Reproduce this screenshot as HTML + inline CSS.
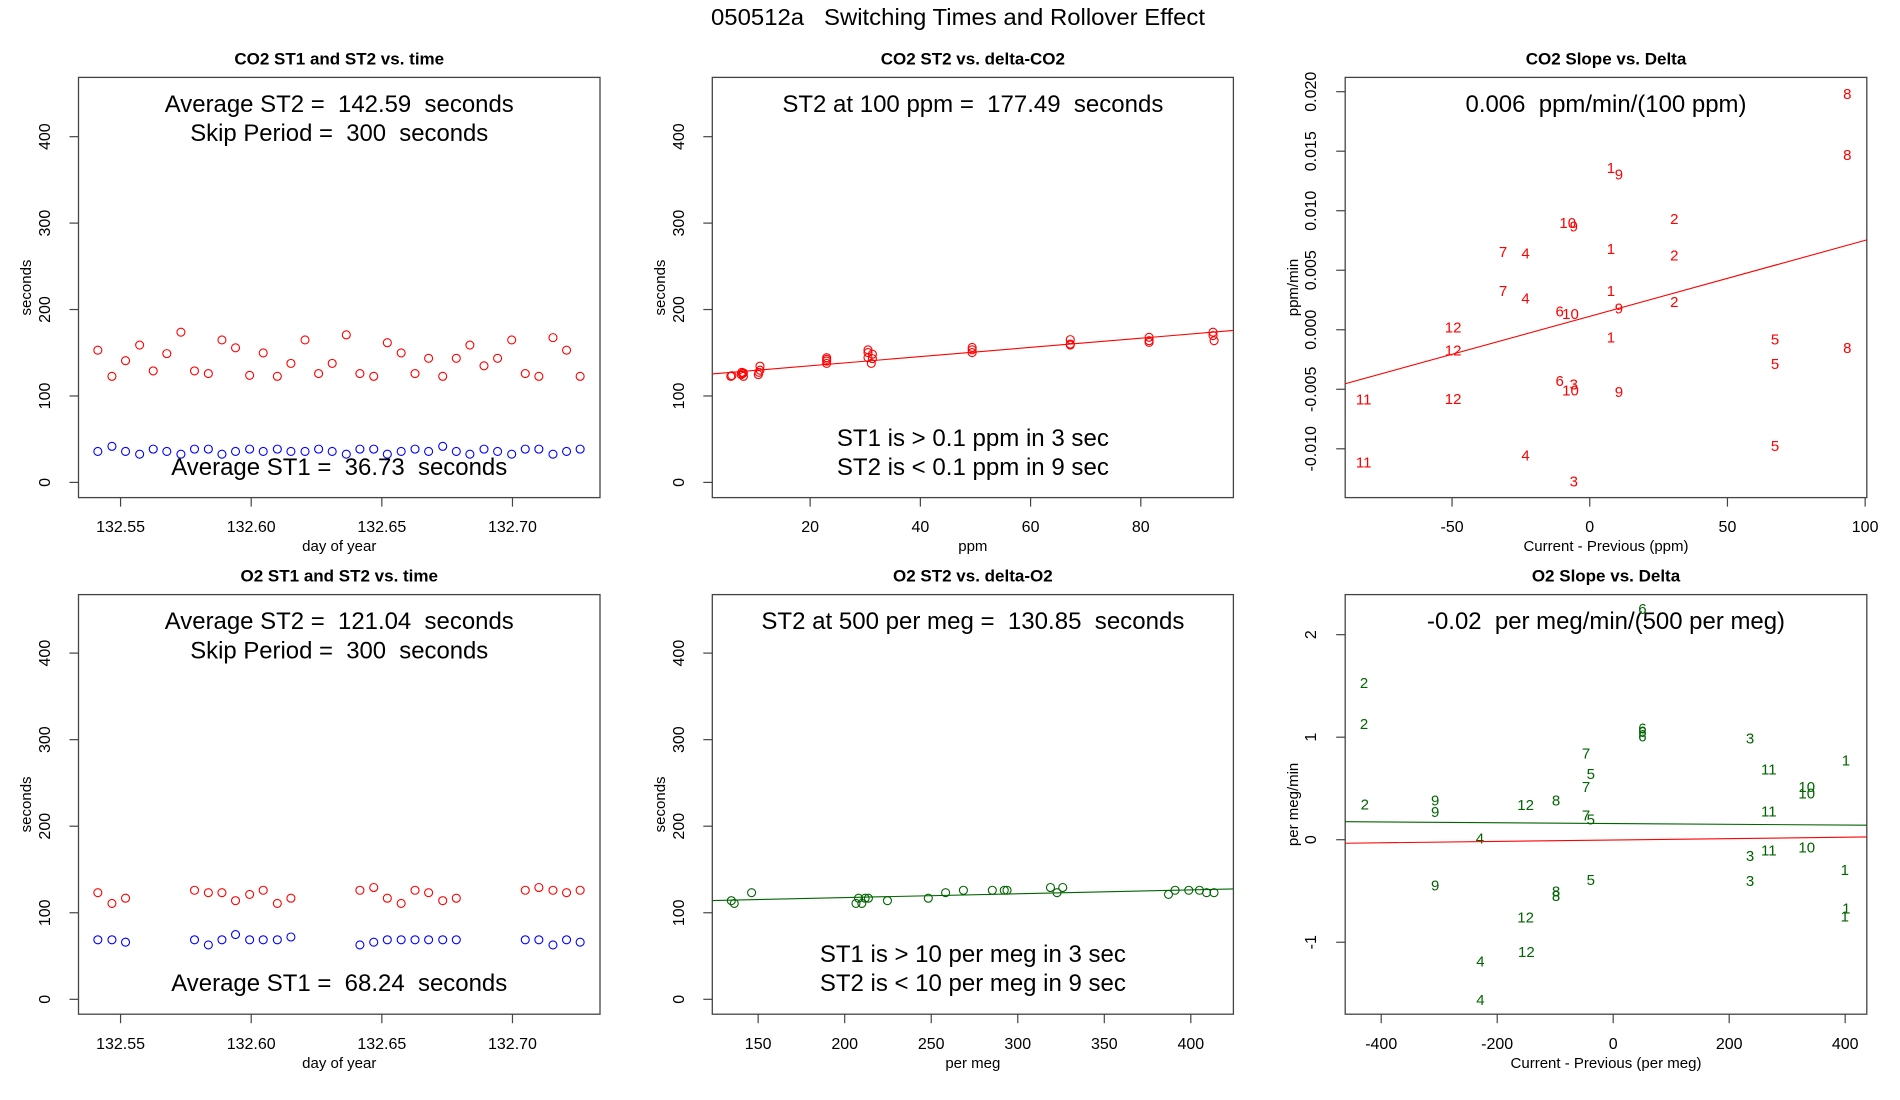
<!DOCTYPE html>
<html><head><meta charset="utf-8"><style>
html,body{margin:0;padding:0;background:#fff;}
svg{display:block;font-family:"Liberation Sans",Arial,sans-serif;}
svg text{white-space:pre;}
</style></head><body>
<svg id="chart" width="1900" height="1100" viewBox="0 0 1900 1100" xmlns="http://www.w3.org/2000/svg">
<rect x="0" y="0" width="1900" height="1100" fill="#fff"/>
<text x="958" y="25" text-anchor="middle" font-size="23" textLength="494" lengthAdjust="spacingAndGlyphs">050512a   Switching Times and Rollover Effect</text>
</svg>
<script>
// ---------- data ----------
const co2Time = [132.5413,132.5467,132.5519,132.5573,132.5625,132.5677,132.5731,132.5783,132.5836,132.5888,132.5940,132.5994,132.6046,132.6100,132.6152,132.6206,132.6258,132.6310,132.6364,132.6416,132.6469,132.6521,132.6574,132.6627,132.6679,132.6733,132.6785,132.6837,132.6891,132.6943,132.6997,132.7049,132.7101,132.7155,132.7207,132.7259];
const co2ST2 = [153,122.7,140.8,158.9,129,149,173.8,129,125.9,164.8,155.7,123.9,149.8,122.7,137.7,164.8,125.9,137.7,170.7,125.9,122.7,161.6,149.8,125.9,143.6,122.7,143.6,158.9,134.9,143.6,164.8,125.9,122.7,167.5,153,122.7];
const co2ST1 = [35.8,41.7,35.8,32.6,38.5,35.8,32.6,38.5,38.5,32.6,35.8,38.5,35.8,38.5,35.8,35.8,38.5,35.8,32.6,38.5,38.5,32.6,35.8,38.5,35.8,41.7,35.8,32.6,38.5,35.8,32.6,38.5,38.5,32.6,35.8,38.5];

const o2Time = [132.5413,132.5467,132.5519,132.5783,132.5836,132.5888,132.5940,132.5994,132.6046,132.6100,132.6152,132.6416,132.6469,132.6521,132.6574,132.6627,132.6679,132.6733,132.6785,132.7049,132.7101,132.7155,132.7207,132.7259];
const o2ST2 = [123.2,110.8,116.8,126,123.2,123.2,114,121.2,126,110.8,116.8,126,129.2,116.8,110.8,126,123.2,114,116.8,126,129.2,126,123.2,126];
const o2ST1 = [68.8,68.8,66,68.8,62.8,68.8,74.8,68.8,68.8,68.8,72,62.8,66,68.8,68.8,68.8,68.8,68.8,68.8,68.8,68.8,62.8,68.8,66];

const co2Delta = [5.6,5.8,7.5,7.7,7.9,7.6,7.9,10.6,10.7,10.9,10.9,23.0,23.0,23.0,23.0,30.5,30.5,30.5,31.1,31.3,31.3,49.4,49.4,49.4,67.2,67.2,67.2,81.5,81.5,81.5,93.1,93.1,93.3];
const co2DeltaST2 = [122.7,123.5,124.7,125.9,122.7,127.4,126.6,124.7,127.4,129.8,134.5,144.3,140.4,137.7,142.4,153.4,150.2,144.3,137.7,148.3,143.2,156.1,153.4,150.2,165.2,160.1,158.9,167.9,164,162,173.8,169.9,164];
const co2Fit = [124.27, 0.5322]; // intercept, slope

const o2Delta = [134.5,136.2,146.2,206.5,208,209.9,211.8,213.7,224.7,248.3,258.3,268.6,285.3,292.2,293.8,318.9,322.7,326,387.1,390.9,398.8,405,409.1,413.4];
const o2DeltaST2 = [114,110.8,123.2,110.8,116.8,110.8,116.8,116.8,114,116.8,123.2,126,126,126,126,129.2,123.2,129.2,121.2,126,126,126,123.2,123.2];
const o2Fit = [108.6, 0.0445];

const co2SlopeLabels = ["8","8","8","1","9","10","9","2","7","4","1","2","7","4","1","9","2","6","10","12","1","5","12","5","6","3","10","9","11","12","5","4","11","3"];
const co2SlopeX = [93.5,93.5,93.5,7.7,10.6,-8,-5.8,30.7,-31.5,-23.3,7.7,30.7,-31.5,-23.3,7.7,10.6,30.7,-10.9,-7,-49.6,7.7,67.3,-49.6,67.3,-10.9,-5.8,-7,10.6,-82.1,-49.6,67.3,-23.3,-82.1,-5.8];
const co2SlopeY = [0.01977,0.01464,-0.00157,0.01355,0.01298,0.00893,0.00865,0.00927,0.0065,0.00636,0.00673,0.00619,0.00322,0.0026,0.00322,0.00174,0.00231,0.00151,0.00128,0.00014,-0.00071,-0.00088,-0.0018,-0.00291,-0.00434,-0.00462,-0.00514,-0.00528,-0.00591,-0.00585,-0.00979,-0.01061,-0.01121,-0.01281];
const co2SlopeFit = [0.00113, 0.0000638];

const o2SlopeLabels = ["6","2","2","6","6","6","3","1","7","5","11","7","10","10","8","9","9","12","2","11","7","5","4","10","11","3","1","5","3","9","8","8","1","1","12","4","12","4"];
const o2SlopeX = [50.3,-429.7,-429.7,50.3,50.3,50.3,235.9,401.4,-46.9,-38.6,268.3,-46.9,333.8,333.8,-98.6,-306.9,-306.9,-151,-428.3,268.3,-46.9,-38.6,-229.7,333.8,268.3,235.9,399.3,-38.6,235.9,-306.9,-98.6,-98.6,402,399.3,-151,-229,-149.7,-229];
const o2SlopeY = [2.247,1.525,1.125,1.078,1.044,1.003,0.983,0.766,0.834,0.637,0.678,0.508,0.508,0.447,0.376,0.376,0.264,0.332,0.339,0.271,0.231,0.19,0.007,-0.081,-0.108,-0.163,-0.302,-0.4,-0.407,-0.451,-0.508,-0.556,-0.678,-0.753,-0.763,-1.193,-1.098,-1.566];
const o2SlopeFit = [0.158, -0.000038];
const o2RefFit = [-0.003, 0.000068];

const secTicks = [0,100,200,300,400];
const timeTicks = [132.55,132.60,132.65,132.70];
const timeTickLabels = ["132.55","132.60","132.65","132.70"];
const ppmTicks = [20,40,60,80];
const permegTicks = [150,200,250,300,350,400];
const co2SlopeYTicks = [-0.010,-0.005,0.000,0.005,0.010,0.015,0.020];
const co2SlopeYLabels = ["-0.010","-0.005","0.000","0.005","0.010","0.015","0.020"];
const co2SlopeXTicks = [-50,0,50,100];
const o2SlopeYTicks = [-1,0,1,2];
const o2SlopeXTicks = [-400,-200,0,200,400];

// ---------- drawing ----------
const NS = "http://www.w3.org/2000/svg";
const svg = document.getElementById('chart');
function mk(tag, attrs, parent, txt){
  const e = document.createElementNS(NS, tag);
  for (const k in attrs) e.setAttribute(k, attrs[k]);
  if (txt !== undefined) e.textContent = txt;
  (parent || svg).appendChild(e);
  return e;
}
const RED = "#ff0000", BLUE = "#0000ff", GREEN = "#006400";
const TOP = {y0: 77.4, y1: 497.6, title: 64.5, tickLab: 532, xlab: 551};
const BOT = {y0: 594.6, y1: 1014.2, title: 581.5, tickLab: 1049, xlab: 1068};
const COLS = [{x0:78.5,x1:600,ylab:31,ytl:50},{x0:712.3,x1:1233.4,ylab:665,ytl:684},{x0:1345.2,x1:1866.8,ylab:1298,ytl:1316}];

function panel(name, col, row, xd, yd, title, xlab, ylab, xt, xtl, yt, ytl){
  const g = mk('g', {});
  
  
  const sx = v => col.x0 + (v - xd[0]) / (xd[1] - xd[0]) * (col.x1 - col.x0);
  const sy = v => row.y1 - (v - yd[0]) / (yd[1] - yd[0]) * (row.y1 - row.y0);
  const cx = (col.x0 + col.x1) / 2;
  const t = mk('text', {x: cx, y: row.title, 'text-anchor':'middle', 'font-size':17, 'font-weight':'bold'}, g, title);
  
  
  const box = mk('rect', {x: col.x0, y: row.y0, width: col.x1-col.x0, height: row.y1-row.y0, fill:'none', stroke:'#444', 'stroke-width':1.3}, g);
  
  
  xt.forEach((v,i) => {
    const x = sx(v);
    mk('line', {x1:x, x2:x, y1:row.y1, y2:row.y1+9, stroke:'#444', 'stroke-width':1.2}, g);
    const l = mk('text', {x:x, y:row.tickLab, 'text-anchor':'middle', 'font-size':16}, g, xtl[i]);
    
    
  });
  yt.forEach((v,i) => {
    const y = sy(v);
    mk('line', {x1:col.x0-9, x2:col.x0, y1:y, y2:y, stroke:'#444', 'stroke-width':1.2}, g);
    const l = mk('text', {x:col.ytl, y:y, 'text-anchor':'middle', 'font-size':16, transform:`rotate(-90 ${col.ytl} ${y})`}, g, ytl[i]);
    
    
  });
  const xl = mk('text', {x:cx, y:row.xlab, 'text-anchor':'middle', 'font-size':15}, g, xlab);
  
  
  const ym = (row.y0 + row.y1) / 2;
  const yl = mk('text', {x:col.ylab, y:ym, 'text-anchor':'middle', 'font-size':15, transform:`rotate(-90 ${col.ylab} ${ym})`}, g, ylab);
  
  
  return {g, sx, sy, cx};
}
function note(p, txt, y, w){
  const t = mk('text', {x:p.cx, y:y, 'text-anchor':'middle', 'font-size':24, textLength:w, lengthAdjust:'spacingAndGlyphs'}, p.g, txt);
  
  
}
function pts(p, xs, ys, color, nm){
  xs.forEach((v,i) => {
    const c = mk('circle', {cx:p.sx(v), cy:p.sy(ys[i]), r:4, fill:'none', stroke:color, 'stroke-width':1.1}, p.g);
    
    
  });
}
function fitLine(p, xd, fit, color, nm){
  const l = mk('line', {x1:p.sx(xd[0]), y1:p.sy(fit[0]+fit[1]*xd[0]), x2:p.sx(xd[1]), y2:p.sy(fit[0]+fit[1]*xd[1]), stroke:color, 'stroke-width':1.1}, p.g);
  
  
}
function labels(p, xs, ys, lbs, color){
  xs.forEach((v,i) => {
    const t = mk('text', {x:p.sx(v), y:p.sy(ys[i]), 'text-anchor':'middle', 'dominant-baseline':'central', 'font-size':15, fill:color}, p.g, lbs[i]);
    
    
  });
}
const secLab = secTicks.map(String);
const secY = [-17.6, 468.6];
const timeX = [132.5339, 132.7335];

// Panel 1
let p = panel('co2-time-panel', COLS[0], TOP, timeX, secY, 'CO2 ST1 and ST2 vs. time', 'day of year', 'seconds', timeTicks, timeTickLabels, secTicks, secLab);
note(p, 'Average ST2 =  142.59  seconds', 112, 349);
note(p, 'Skip Period =  300  seconds', 141, 298);
pts(p, co2Time, co2ST2, RED, 'co2-st2-point');
pts(p, co2Time, co2ST1, BLUE, 'co2-st1-point');
note(p, 'Average ST1 =  36.73  seconds', 475, 336);

// Panel 2
const p2x = [2.25, 96.8];
p = panel('co2-delta-panel', COLS[1], TOP, p2x, secY, 'CO2 ST2 vs. delta-CO2', 'ppm', 'seconds', ppmTicks, ppmTicks.map(String), secTicks, secLab);
note(p, 'ST2 at 100 ppm =  177.49  seconds', 112, 381);
pts(p, co2Delta, co2DeltaST2, RED, 'co2-delta-point');
fitLine(p, p2x, co2Fit, RED, 'co2-fit-line');
note(p, 'ST1 is > 0.1 ppm in 3 sec', 446, 272);
note(p, 'ST2 is < 0.1 ppm in 9 sec', 475, 272);

// Panel 3
const p3x = [-88.8, 100.6];
p = panel('co2-slope-panel', COLS[2], TOP, p3x, [-0.0141, 0.0212], 'CO2 Slope vs. Delta', 'Current - Previous (ppm)', 'ppm/min', co2SlopeXTicks, co2SlopeXTicks.map(String), co2SlopeYTicks, co2SlopeYLabels);
note(p, '0.006  ppm/min/(100 ppm)', 112, 281);
labels(p, co2SlopeX, co2SlopeY, co2SlopeLabels, RED);
fitLine(p, p3x, co2SlopeFit, RED, 'co2-slope-fit-line');

// Panel 4
p = panel('o2-time-panel', COLS[0], BOT, timeX, [-17.2, 467.6], 'O2 ST1 and ST2 vs. time', 'day of year', 'seconds', timeTicks, timeTickLabels, secTicks, secLab);
note(p, 'Average ST2 =  121.04  seconds', 629, 349);
note(p, 'Skip Period =  300  seconds', 658.5, 298);
pts(p, o2Time, o2ST2, RED, 'o2-st2-point');
pts(p, o2Time, o2ST1, BLUE, 'o2-st1-point');
note(p, 'Average ST1 =  68.24  seconds', 991, 336);

// Panel 5
const p5x = [123.5, 424.6];
p = panel('o2-delta-panel', COLS[1], BOT, p5x, [-17.2, 467.6], 'O2 ST2 vs. delta-O2', 'per meg', 'seconds', permegTicks, permegTicks.map(String), secTicks, secLab);
note(p, 'ST2 at 500 per meg =  130.85  seconds', 629, 423);
pts(p, o2Delta, o2DeltaST2, GREEN, 'o2-delta-point');
fitLine(p, p5x, o2Fit, GREEN, 'o2-fit-line');
note(p, 'ST1 is > 10 per meg in 3 sec', 962, 306);
note(p, 'ST2 is < 10 per meg in 9 sec', 991, 306);

// Panel 6
const p6x = [-462.1, 437.3];
p = panel('o2-slope-panel', COLS[2], BOT, p6x, [-1.702, 2.391], 'O2 Slope vs. Delta', 'Current - Previous (per meg)', 'per meg/min', o2SlopeXTicks, o2SlopeXTicks.map(String), o2SlopeYTicks, o2SlopeYTicks.map(String));
note(p, '-0.02  per meg/min/(500 per meg)', 629, 358);
labels(p, o2SlopeX, o2SlopeY, o2SlopeLabels, GREEN);
fitLine(p, p6x, o2SlopeFit, GREEN, 'o2-slope-fit-line');
fitLine(p, p6x, o2RefFit, RED, 'o2-reference-line');
</script>
</body></html>
